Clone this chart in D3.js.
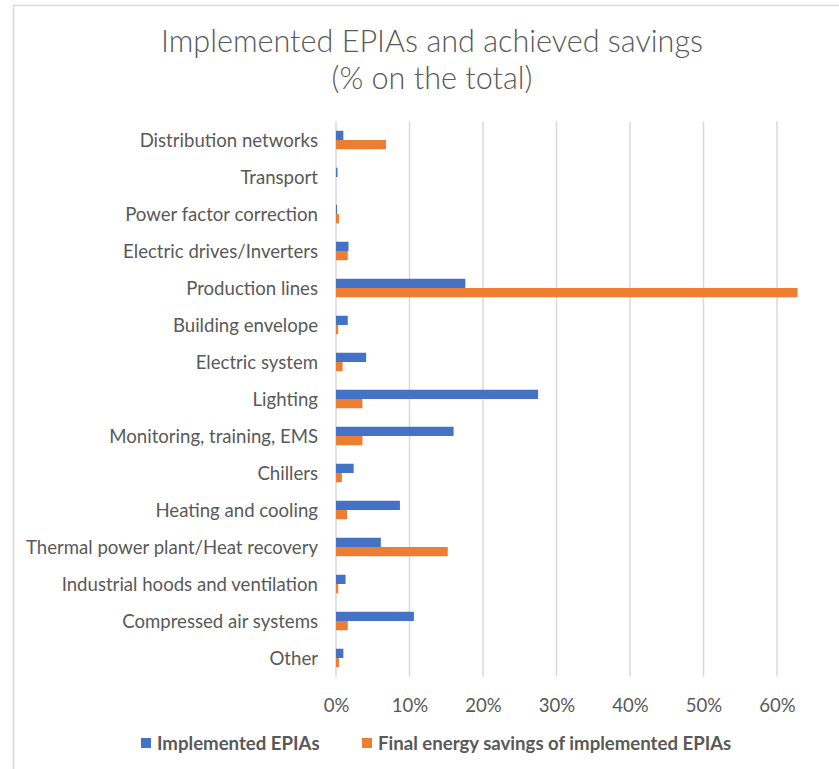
<!DOCTYPE html>
<html>
<head>
<meta charset="utf-8">
<script src="https://cdn.jsdelivr.net/npm/d3@7"></script>
<style>
  body { margin: 0; background: #ffffff; }
  #chart { width: 839px; height: 769px; }
  text { font-family: Lato, "Noto Sans", sans-serif; fill: #595959; }
</style>
</head>
<body>
<div id="chart"></div>
<script>
// categories top to bottom, as in the picture
const categories = [
  "Distribution networks",
  "Transport",
  "Power factor correction",
  "Electric drives/Inverters",
  "Production lines",
  "Building envelope",
  "Electric system",
  "Lighting",
  "Monitoring, training, EMS",
  "Chillers",
  "Heating and cooling",
  "Thermal power plant/Heat recovery",
  "Industrial hoods and ventilation",
  "Compressed air systems",
  "Other"
];

// % on the total
const implementedEPIAs = [1.0, 0.2, 0.15, 1.7, 17.6, 1.6, 4.1, 27.5, 16.0, 2.4, 8.7, 6.1, 1.3, 10.6, 1.0];
const energySavings    = [6.8, 0.0, 0.4, 1.6, 62.8, 0.3, 0.9, 3.6, 3.6, 0.8, 1.5, 15.2, 0.3, 1.6, 0.4];

const seriesNames = ["Implemented EPIAs", "Final energy savings of implemented EPIAs"];
const seriesColors = ["#4472C4", "#ED7D31"];
const tickValues = [0, 10, 20, 30, 40, 50, 60];

const width = 839;
const height = 769;
const plot = {left: 336, right: 777, top: 121.5, bottom: 676.5};

const svg = d3.select("#chart")
    .append("svg")
    .attr("width", width)
    .attr("height", height);

// chart frame (only top and left edges are visible in the crop)
svg.append("path")
    .attr("d", `M13.5,${height} V5.5 H${width}`)
    .attr("fill", "none")
    .attr("stroke", "#d9d9d9")
    .attr("stroke-width", 1.5);

const title = svg.append("text")
    .attr("text-anchor", "middle")
    .style("font-size", "30.6px")
    .style("font-weight", 300);
title.append("tspan").attr("x", 432).attr("y", 52).text("Implemented EPIAs and achieved savings");
title.append("tspan").attr("x", 432).attr("y", 89).text("(% on the total)");

const x = d3.scaleLinear()
    .domain([0, 60])
    .range([plot.left, plot.right]);

const y = d3.scaleBand()
    .domain(categories)
    .range([plot.top, plot.bottom]);

const ySeries = d3.scaleBand()
    .domain(d3.range(seriesNames.length))
    .range([y.bandwidth() * 0.25, y.bandwidth() * 0.75]);

// gridlines
svg.append("g")
    .selectAll("line")
    .data(tickValues)
    .join("line")
    .attr("x1", d => x(d))
    .attr("x2", d => x(d))
    .attr("y1", plot.top)
    .attr("y2", plot.bottom)
    .attr("stroke", "#d9d9d9")
    .attr("stroke-width", 1.5);

// x axis labels
const xAxis = svg.append("g")
    .attr("transform", `translate(0,${plot.bottom})`)
    .call(d3.axisBottom(x).tickValues(tickValues).tickFormat(d => d + "%").tickSize(0).tickPadding(0));
xAxis.select(".domain").remove();
xAxis.selectAll("text")
    .attr("dy", null)
    .attr("y", 35)
    .style("font-size", "18.6px")
    .style("font-family", "Lato, sans-serif")
    .attr("fill", "#595959");

// category labels
const yAxis = svg.append("g")
    .attr("transform", `translate(318,0)`)
    .call(d3.axisLeft(y).tickSize(0).tickPadding(0));
yAxis.select(".domain").remove();
yAxis.selectAll("text")
    .attr("dy", null)
    .attr("y", 7)
    .attr("x", 0)
    .style("font-size", "18.6px")
    .style("font-family", "Lato, sans-serif")
    .attr("fill", "#595959");

// bars
const series = [implementedEPIAs, energySavings];
series.forEach((values, s) => {
    svg.append("g")
        .attr("fill", seriesColors[s])
        .selectAll("rect")
        .data(values)
        .join("rect")
        .attr("x", x(0))
        .attr("y", (d, i) => y(categories[i]) + ySeries(s))
        .attr("width", d => x(d) - x(0))
        .attr("height", ySeries.bandwidth());
});

// legend
const legendX = [141, 362];
const legend = svg.append("g")
    .selectAll("g")
    .data(seriesNames)
    .join("g")
    .attr("transform", (d, i) => `translate(${legendX[i]},738)`);
legend.append("rect")
    .attr("width", 10)
    .attr("height", 10)
    .attr("fill", (d, i) => seriesColors[i]);
legend.append("text")
    .attr("x", 16)
    .attr("y", 12)
    .style("font-size", "18.6px")
    .style("font-weight", "bold")
    .text(d => d);
</script>
</body>
</html>
